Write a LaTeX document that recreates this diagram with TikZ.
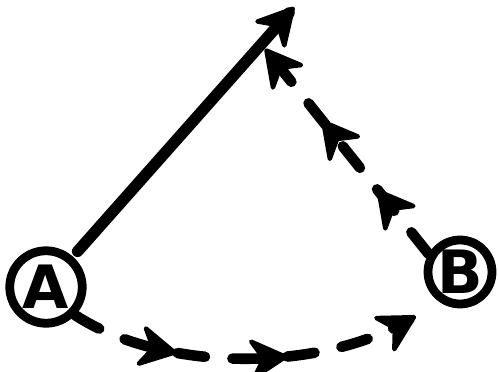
\documentclass[tikz,border=0pt]{standalone}
\usepackage{fontspec}
\setsansfont{DejaVu Sans}
\usetikzlibrary{decorations.markings}
\tikzset{
	endpoint/.style={circle, draw, line width=5pt, inner sep=0pt, font=\sffamily\bfseries\fontsize{34}{34}\selectfont},
	dashline/.style={line width=6pt, line cap=round, dash pattern=on 0.55cm off 0.55cm},
	tipped/.style={decoration={markings, mark=at position 0.999 with {\tipmark}}, postaction={decorate}},
	threetips/.style 2 args={decoration={markings,
		mark=at position #1 with {\tipmark},
		mark=at position #2 with {\tipmark},
		mark=at position 0.999 with {\tipmark}}, postaction={decorate}},
}
% arrow head put on a path by markings
\newcommand{\tipmark}{\filldraw[solid, line width=2.5pt, line join=round] (0.12cm,0cm) -- (-0.54cm,0.36cm) -- (-0.32cm,0cm) -- (-0.54cm,-0.36cm) -- cycle;}
\begin{document}
\begin{tikzpicture}[x=0.02cm, y=-0.02cm]
			\useasboundingbox (0,0) rectangle (499,371);
			
			%	Points A and B
			\node[endpoint, minimum size=1.45cm] (A) at (46,287) {A};
			\node[endpoint, minimum size=1.28cm] (B) at (460,272) {B};
			\coordinate (tip) at (289,13);
			\coordinate (peak) at (270,55);
			\coordinate (arrive) at (409,320);
			
			%	Solid arrow
			\draw[line width=6.5pt, line cap=round, shorten <=4pt, tipped] (A) -- (tip);
			
			%	Dashed arrow from B upwards
			\draw[dashline, threetips={0.29}{0.64}] (B.150) -- (peak);
			
			%	Dashed curve from A to B
			\draw[dashline, threetips={0.29}{0.61}] (A.-44) .. controls +(-33:2.1cm) and +(210:2.1cm) .. (arrive);
		\end{tikzpicture}
\end{document}
